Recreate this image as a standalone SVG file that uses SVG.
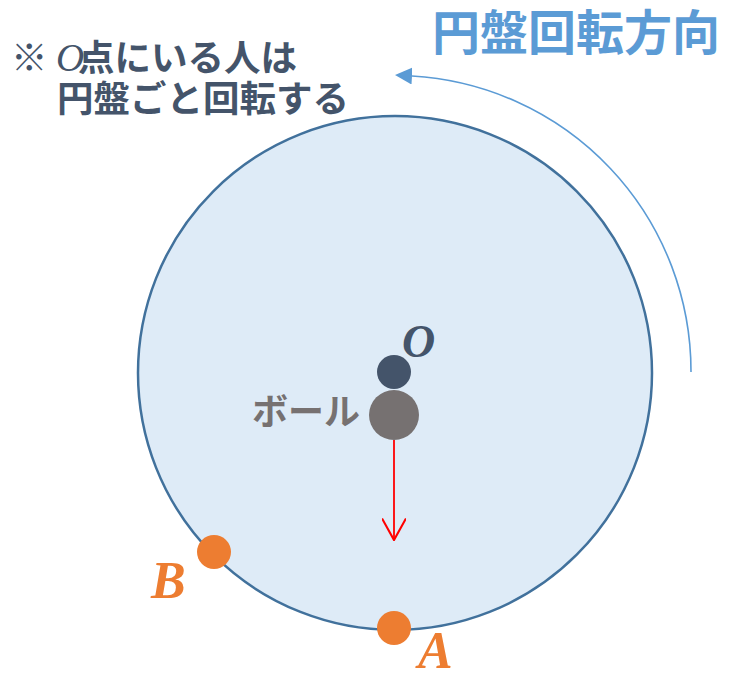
<svg xmlns="http://www.w3.org/2000/svg" width="738" height="678" viewBox="0 0 738 678">
<defs>
<style>
.jp{font-family:"Noto Sans CJK JP","Noto Sans",sans-serif;font-weight:bold}
.ser{font-family:"Liberation Serif",serif;font-style:italic;font-weight:bold}
.orange{fill:#ED7D31}
</style>
<marker id="blueHead" viewBox="0 0 10 10" refX="0" refY="5" markerWidth="17" markerHeight="17" markerUnits="userSpaceOnUse" orient="auto">
<path d="M0,0 L10,5 L0,10 z" fill="#5B9BD5"/>
</marker>
<marker id="redHead" viewBox="0 0 20 20" refX="10" refY="19" markerWidth="24" markerHeight="24" markerUnits="userSpaceOnUse" orient="0">
<path d="M0,1 L10,19 L20,1" fill="none" stroke="#FF0000" stroke-width="1.8"/>
</marker>
</defs>
<rect width="738" height="678" fill="#FFFFFF"/>
<g id="disk">
<circle cx="395" cy="373" r="257" fill="#DEEBF7" stroke="#41719C" stroke-width="2.5"/>
</g>
<g id="connectors">
<path d="M691,372 A296,296 0 0 0 412,76" fill="none" stroke="#5B9BD5" stroke-width="1.6" marker-end="url(#blueHead)"/>
<path d="M394,440 L394,540" fill="none" stroke="#FF0000" stroke-width="1.8" marker-end="url(#redHead)"/>
</g>
<g id="title">
<text class="jp" x="432" y="50" font-size="48" fill="#5B9BD5">円盤回転方向</text>
</g>
<g id="note">
<text class="jp" font-size="36.5" fill="#44546A"><tspan x="11" y="71">※</tspan><tspan x="56" y="71" font-family="Liberation Serif,serif" font-style="italic" font-weight="normal" font-size="39">O</tspan><tspan x="78" y="71">点にいる人は</tspan><tspan x="57" y="112">円盤ごと回転する</tspan></text>
</g>
<g id="pointO">
<circle cx="394" cy="372" r="17" fill="#44546A"/>
<text class="ser" x="402" y="357" font-size="46" fill="#44546A">O</text>
</g>
<g id="ball">
<circle cx="394" cy="415" r="25" fill="#767171"/>
<text class="jp" x="252" y="425" font-size="36" fill="#767171">ボール</text>
</g>
<g id="pointB">
<circle cx="214" cy="552" r="17" class="orange"/>
<text class="ser orange" x="151" y="598" font-size="52">B</text>
</g>
<g id="pointA">
<circle cx="394" cy="628" r="17" class="orange"/>
<text class="ser orange" x="418" y="668" font-size="52">A</text>
</g>
</svg>
